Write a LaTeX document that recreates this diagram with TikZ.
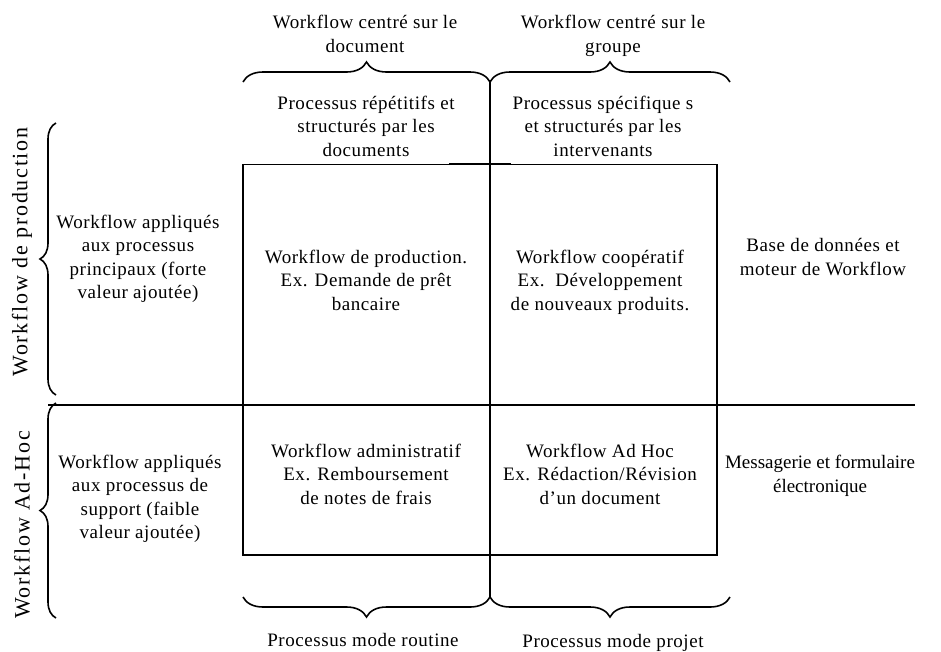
\documentclass[tikz,border=0pt]{standalone}
\usepackage{fontspec}
\setmainfont{Liberation Serif}
\usetikzlibrary{decorations.pathreplacing}
\begin{document}
\begin{tikzpicture}[x=1pt,y=-1pt,
  lbl/.style={align=center, inner sep=0pt,
    font=\fontsize{19}{23.5}\selectfont\addfontfeatures{LetterSpace=3}},
  tight/.style={lbl, font=\fontsize{19}{23.5}\selectfont},
  side/.style={inner sep=0pt, rotate=90,
    font=\fontsize{22}{26}\selectfont\addfontfeatures{LetterSpace=8}},
  rule/.style={line width=1.6pt},
  thinrule/.style={line width=0.8pt},
  curly/.style={line width=1.6pt, decorate, decoration={brace, amplitude=#1}},
  curly/.default=20pt,
]
\useasboundingbox (0,0) rectangle (941,651);

% frame of the four quadrants
\coordinate (nw) at (243,164);
\coordinate (ne) at (717,164);
\coordinate (se) at (717,555);
\coordinate (sw) at (243,555);
\draw[thinrule] (nw) -- (ne);
\draw[rule] (ne) -- (se) -- (sw) -- (nw);
\coordinate (tickL) at (449,164);
\coordinate (tickR) at (511,164);
\draw[rule] (tickL) -- (tickR);

% axes
\coordinate (vtop) at (490,80);
\coordinate (vbot) at (490,598);
\coordinate (hleft) at (48,405);
\coordinate (hright) at (915,405);
\draw[rule] (vtop) -- (vbot);
\draw[rule] (hleft) -- (hright);

% braces
\coordinate (tbL) at (243,82);
\coordinate (tbM) at (490,82);
\coordinate (tbR) at (730,82);
\draw[curly] (tbL) -- (tbM);
\draw[curly] (tbM) -- (tbR);
\coordinate (bbL) at (243,597);
\coordinate (bbM) at (490,597);
\coordinate (bbR) at (730,597);
\draw[curly] (bbM) -- (bbL);
\draw[curly] (bbR) -- (bbM);
\coordinate (lb1) at (56,123);
\coordinate (lb2) at (56,395);
\coordinate (lb3) at (56,403);
\coordinate (lb4) at (56,618);
\draw[curly=16pt] (lb2) -- (lb1);
\draw[curly=16pt] (lb4) -- (lb3);

% column headings
\node[lbl] (hdoc) at (365,34) {Workflow centré sur le\\document};
\node[lbl] (hgrp) at (613,36) {Workflow centré sur le\\groupe};
\node[lbl] (pdoc) at (366,126) {Processus répétitifs et\\structurés par les\\documents};
\node[lbl] (pint) at (603,126) {Processus spécifique s\\et structurés par les\\intervenants};

% row headings
\node[side] (rprod) at (22,252) {Workflow de production};
\node[side] (radh) at (22,525) {Workflow Ad-Hoc};
\node[lbl] (rprin) at (138,259) {Workflow appliqués\\aux processus\\principaux (forte\\valeur ajoutée)};
\node[lbl] (rsup) at (140,499) {Workflow appliqués\\aux processus de\\support (faible\\valeur ajoutée)};

% quadrants
\node[lbl] (q1) at (366,280) {Workflow de production.\\Ex. Demande de prêt\\bancaire};
\node[lbl] (q2) at (600,282) {Workflow coopératif\\Ex.\ \ Développement\\de nouveaux produits.};
\node[lbl] (q3) at (366,474) {Workflow administratif\\Ex. Remboursement\\de notes de frais};
\node[lbl] (q4) at (600,474) {Workflow Ad Hoc\\Ex. Rédaction/Révision\\d’un document};

% right-hand notes
\node[lbl] (tech1) at (823,257) {Base de données et\\moteur de Workflow};
\node[tight] (tech2) at (820,476) {Messagerie et formulaire\\électronique};

% bottom labels
\node[lbl] (mroutine) at (363,640) {Processus mode routine};
\node[lbl] (mprojet) at (613,643) {Processus mode projet};
\end{tikzpicture}
\end{document}
